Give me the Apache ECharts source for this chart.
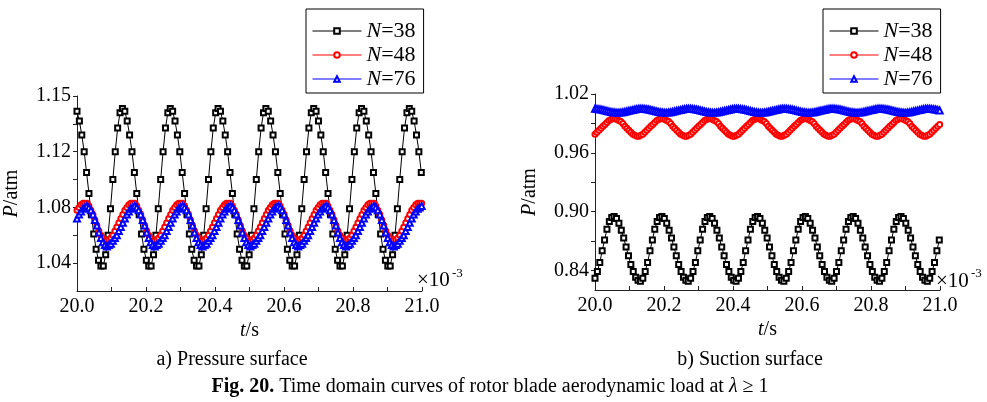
<!DOCTYPE html>
<html>
<head>
<meta charset="utf-8">
<script src="https://cdn.jsdelivr.net/npm/echarts@6/dist/echarts.min.js"></script>
<style>
	html, body { margin: 0; padding: 0; background: #fff; }
	#fig { width: 987px; height: 402px; }
</style>
</head>
<body>
<div id="fig"></div>
<script>
	// sample times: start + i * step (ms ×10^-3 s)
	var tStart = 20.0;
	var stepN38 = 0.00693;
	var stepN48 = 0.005775;
	var stepN76 = 0.005775;

	var seriesNames = ['N=38', 'N=48', 'N=76'];
	var xTicks = [20.0, 20.2, 20.4, 20.6, 20.8, 21.0];

	// a) pressure surface
	var leftYTicks = [1.04, 1.06, 1.08, 1.10, 1.12, 1.14, 1.16];
	var leftYLabelValues = [1.04, 1.08, 1.12, 1.16];
	var leftYLabels = ['1.04', '1.08', '1.12', '1.15'];

	var pressN38 = [
		1.149,1.142,1.132,1.120,1.105,1.090,1.075,1.061,1.050,1.042,1.038,1.038,1.046,1.060,1.079,1.100,1.120,1.137,1.148,1.151,
		1.149,1.142,1.132,1.120,1.105,1.090,1.075,1.061,1.050,1.042,1.038,1.038,1.046,1.060,1.079,1.100,1.120,1.137,1.148,1.151,
		1.149,1.142,1.132,1.120,1.105,1.090,1.075,1.061,1.050,1.042,1.038,1.038,1.046,1.060,1.079,1.100,1.120,1.137,1.148,1.151,
		1.149,1.142,1.132,1.120,1.105,1.090,1.075,1.061,1.050,1.042,1.038,1.038,1.046,1.060,1.079,1.100,1.120,1.137,1.148,1.151,
		1.149,1.142,1.132,1.120,1.105,1.090,1.075,1.061,1.050,1.042,1.038,1.038,1.046,1.060,1.079,1.100,1.120,1.137,1.148,1.151,
		1.149,1.142,1.132,1.120,1.105,1.090,1.075,1.061,1.050,1.042,1.038,1.038,1.046,1.060,1.079,1.100,1.120,1.137,1.148,1.151,
		1.149,1.142,1.132,1.120,1.105,1.090,1.075,1.061,1.050,1.042,1.038,1.038,1.046,1.060,1.079,1.100,1.120,1.137,1.148,1.151,
		1.149,1.142,1.132,1.120,1.105
	];
	var pressN48 = [
		1.078,1.080,1.082,1.083,1.083,1.083,1.081,1.078,1.075,1.071,1.067,1.063,1.060,1.058,1.056,1.056,1.057,1.058,1.060,1.063,1.066,1.069,1.072,1.075,
		1.078,1.080,1.082,1.083,1.083,1.083,1.081,1.078,1.075,1.071,1.067,1.063,1.060,1.058,1.056,1.056,1.057,1.058,1.060,1.063,1.066,1.069,1.072,1.075,
		1.078,1.080,1.082,1.083,1.083,1.083,1.081,1.078,1.075,1.071,1.067,1.063,1.060,1.058,1.056,1.056,1.057,1.058,1.060,1.063,1.066,1.069,1.072,1.075,
		1.078,1.080,1.082,1.083,1.083,1.083,1.081,1.078,1.075,1.071,1.067,1.063,1.060,1.058,1.056,1.056,1.057,1.058,1.060,1.063,1.066,1.069,1.072,1.075,
		1.078,1.080,1.082,1.083,1.083,1.083,1.081,1.078,1.075,1.071,1.067,1.063,1.060,1.058,1.056,1.056,1.057,1.058,1.060,1.063,1.066,1.069,1.072,1.075,
		1.078,1.080,1.082,1.083,1.083,1.083,1.081,1.078,1.075,1.071,1.067,1.063,1.060,1.058,1.056,1.056,1.057,1.058,1.060,1.063,1.066,1.069,1.072,1.075,
		1.078,1.080,1.082,1.083,1.083,1.083,1.081,1.078,1.075,1.071,1.067,1.063,1.060,1.058,1.056,1.056,1.057,1.058,1.060,1.063,1.066,1.069,1.072,1.075,
		1.078,1.080,1.082,1.083,1.083,1.083
	];
	var pressN76 = [
		1.072,1.075,1.077,1.079,1.080,1.081,1.080,1.078,1.075,1.071,1.067,1.062,1.058,1.055,1.053,1.052,1.053,1.054,1.056,1.058,1.060,1.063,1.066,1.069,
		1.072,1.075,1.077,1.079,1.080,1.081,1.080,1.078,1.075,1.071,1.067,1.062,1.058,1.055,1.053,1.052,1.053,1.054,1.056,1.058,1.060,1.063,1.066,1.069,
		1.072,1.075,1.077,1.079,1.080,1.081,1.080,1.078,1.075,1.071,1.067,1.062,1.058,1.055,1.053,1.052,1.053,1.054,1.056,1.058,1.060,1.063,1.066,1.069,
		1.072,1.075,1.077,1.079,1.080,1.081,1.080,1.078,1.075,1.071,1.067,1.062,1.058,1.055,1.053,1.052,1.053,1.054,1.056,1.058,1.060,1.063,1.066,1.069,
		1.072,1.075,1.077,1.079,1.080,1.081,1.080,1.078,1.075,1.071,1.067,1.062,1.058,1.055,1.053,1.052,1.053,1.054,1.056,1.058,1.060,1.063,1.066,1.069,
		1.072,1.075,1.077,1.079,1.080,1.081,1.080,1.078,1.075,1.071,1.067,1.062,1.058,1.055,1.053,1.052,1.053,1.054,1.056,1.058,1.060,1.063,1.066,1.069,
		1.072,1.075,1.077,1.079,1.080,1.081,1.080,1.078,1.075,1.071,1.067,1.062,1.058,1.055,1.053,1.052,1.053,1.054,1.056,1.058,1.060,1.063,1.066,1.069,
		1.072,1.075,1.077,1.079,1.080,1.081
	];

	// b) suction surface
	var rightYTicks = [0.84, 0.87, 0.90, 0.93, 0.96, 0.99, 1.02];
	var rightYLabelValues = [0.84, 0.90, 0.96, 1.02];
	var rightYLabels = ['0.84', '0.90', '0.96', '1.02'];

	var suctN38 = [
		0.832,0.839,0.848,0.860,0.871,0.882,0.890,0.894,0.895,0.893,0.888,0.881,0.873,0.864,0.855,0.846,0.839,0.833,0.830,0.829,
		0.832,0.839,0.848,0.860,0.871,0.882,0.890,0.894,0.895,0.893,0.888,0.881,0.873,0.864,0.855,0.846,0.839,0.833,0.830,0.829,
		0.832,0.839,0.848,0.860,0.871,0.882,0.890,0.894,0.895,0.893,0.888,0.881,0.873,0.864,0.855,0.846,0.839,0.833,0.830,0.829,
		0.832,0.839,0.848,0.860,0.871,0.882,0.890,0.894,0.895,0.893,0.888,0.881,0.873,0.864,0.855,0.846,0.839,0.833,0.830,0.829,
		0.832,0.839,0.848,0.860,0.871,0.882,0.890,0.894,0.895,0.893,0.888,0.881,0.873,0.864,0.855,0.846,0.839,0.833,0.830,0.829,
		0.832,0.839,0.848,0.860,0.871,0.882,0.890,0.894,0.895,0.893,0.888,0.881,0.873,0.864,0.855,0.846,0.839,0.833,0.830,0.829,
		0.832,0.839,0.848,0.860,0.871,0.882,0.890,0.894,0.895,0.893,0.888,0.881,0.873,0.864,0.855,0.846,0.839,0.833,0.830,0.829,
		0.832,0.839,0.848,0.860,0.871
	];
	var suctN48 = [
		0.979,0.981,0.983,0.985,0.987,0.989,0.991,0.993,0.994,0.995,0.995,0.994,0.993,0.992,0.990,0.987,0.985,0.983,0.981,0.979,0.978,0.977,0.977,0.978,
		0.979,0.981,0.983,0.985,0.987,0.989,0.991,0.993,0.994,0.995,0.995,0.994,0.993,0.992,0.990,0.987,0.985,0.983,0.981,0.979,0.978,0.977,0.977,0.978,
		0.979,0.981,0.983,0.985,0.987,0.989,0.991,0.993,0.994,0.995,0.995,0.994,0.993,0.992,0.990,0.987,0.985,0.983,0.981,0.979,0.978,0.977,0.977,0.978,
		0.979,0.981,0.983,0.985,0.987,0.989,0.991,0.993,0.994,0.995,0.995,0.994,0.993,0.992,0.990,0.987,0.985,0.983,0.981,0.979,0.978,0.977,0.977,0.978,
		0.979,0.981,0.983,0.985,0.987,0.989,0.991,0.993,0.994,0.995,0.995,0.994,0.993,0.992,0.990,0.987,0.985,0.983,0.981,0.979,0.978,0.977,0.977,0.978,
		0.979,0.981,0.983,0.985,0.987,0.989,0.991,0.993,0.994,0.995,0.995,0.994,0.993,0.992,0.990,0.987,0.985,0.983,0.981,0.979,0.978,0.977,0.977,0.978,
		0.979,0.981,0.983,0.985,0.987,0.989,0.991,0.993,0.994,0.995,0.995,0.994,0.993,0.992,0.990,0.987,0.985,0.983,0.981,0.979,0.978,0.977,0.977,0.978,
		0.979,0.981,0.983,0.985,0.987,0.989
	];
	var suctN76 = [
		1.0050,1.0048,1.0045,1.0042,1.0037,1.0032,1.0027,1.0022,1.0017,1.0014,1.0011,1.0010,1.0010,1.0012,1.0015,1.0018,1.0023,1.0028,1.0033,1.0038,1.0043,1.0046,1.0049,1.0050,
		1.0050,1.0048,1.0045,1.0042,1.0037,1.0032,1.0027,1.0022,1.0017,1.0014,1.0011,1.0010,1.0010,1.0012,1.0015,1.0018,1.0023,1.0028,1.0033,1.0038,1.0043,1.0046,1.0049,1.0050,
		1.0050,1.0048,1.0045,1.0042,1.0037,1.0032,1.0027,1.0022,1.0017,1.0014,1.0011,1.0010,1.0010,1.0012,1.0015,1.0018,1.0023,1.0028,1.0033,1.0038,1.0043,1.0046,1.0049,1.0050,
		1.0050,1.0048,1.0045,1.0042,1.0037,1.0032,1.0027,1.0022,1.0017,1.0014,1.0011,1.0010,1.0010,1.0012,1.0015,1.0018,1.0023,1.0028,1.0033,1.0038,1.0043,1.0046,1.0049,1.0050,
		1.0050,1.0048,1.0045,1.0042,1.0037,1.0032,1.0027,1.0022,1.0017,1.0014,1.0011,1.0010,1.0010,1.0012,1.0015,1.0018,1.0023,1.0028,1.0033,1.0038,1.0043,1.0046,1.0049,1.0050,
		1.0050,1.0048,1.0045,1.0042,1.0037,1.0032,1.0027,1.0022,1.0017,1.0014,1.0011,1.0010,1.0010,1.0012,1.0015,1.0018,1.0023,1.0028,1.0033,1.0038,1.0043,1.0046,1.0049,1.0050,
		1.0050,1.0048,1.0045,1.0042,1.0037,1.0032,1.0027,1.0022,1.0017,1.0014,1.0011,1.0010,1.0010,1.0012,1.0015,1.0018,1.0023,1.0028,1.0033,1.0038,1.0043,1.0046,1.0049,1.0050,
		1.0050,1.0048,1.0045,1.0042,1.0037,1.0032
	];

	var FONT = '"Liberation Serif", "Times New Roman", serif';

	function pairs(vals, step) {
		var out = [];
		for (var i = 0; i < vals.length; i++) {
			out.push([tStart + i * step, vals[i]]);
		}
		return out;
	}

	var styles = [
		{ symbol: 'emptyRect', size: 5, color: '#000000' },
		{ symbol: 'emptyCircle', size: 5, color: '#ff0000' },
		{ symbol: 'emptyTriangle', size: 6, color: '#0000ff' }
	];

	function mkSeries(idx, vals, step, gi) {
		var s = styles[idx];
		return {
			name: seriesNames[idx],
			type: 'line',
			xAxisIndex: gi,
			yAxisIndex: gi,
			data: pairs(vals, step),
			symbol: s.symbol,
			symbolSize: s.size,
			showAllSymbol: true,
			itemStyle: { color: s.color, borderWidth: 1 },
			lineStyle: { color: s.color, width: 1 },
			emphasis: { disabled: true }
		};
	}

	function xAxisCfg(gi) {
		return {
			type: 'value',
			gridIndex: gi,
			min: 20, max: 21, interval: 0.2,
			name: '{i|t}/s',
			nameLocation: 'middle',
			nameGap: 30,
			nameTextStyle: {
				fontFamily: FONT, fontSize: 20, color: '#000',
				rich: { i: { fontFamily: FONT, fontSize: 20, fontStyle: 'italic', color: '#000' } }
			},
			axisLine: { show: true, onZero: false, lineStyle: { color: '#222', width: 1 } },
			axisTick: { show: true, inside: true, length: 4, lineStyle: { color: '#222' } },
			minorTick: { show: true, splitNumber: 2, length: 4, lineStyle: { color: '#222' } },
			axisLabel: {
				fontFamily: FONT, fontSize: 20, color: '#000', margin: 6,
				customValues: xTicks,
				formatter: function (v) { return v.toFixed(1); }
			},
			splitLine: { show: false }
		};
	}

	function yAxisCfg(gi, mn, mx, ticks, labVals, labs) {
		return {
			type: 'value',
			gridIndex: gi,
			min: mn, max: mx,
			name: '{i|P}/atm',
			nameLocation: 'middle',
			nameRotate: 90,
			nameGap: 55,
			nameTextStyle: {
				fontFamily: FONT, fontSize: 20, color: '#000',
				rich: { i: { fontFamily: FONT, fontSize: 20, fontStyle: 'italic', color: '#000' } }
			},
			axisLine: { show: true, onZero: false, lineStyle: { color: '#222', width: 1 } },
			axisTick: { show: true, inside: false, length: 4, customValues: ticks, lineStyle: { color: '#222' } },
			axisLabel: {
				fontFamily: FONT, fontSize: 20, color: '#000', margin: 6,
				customValues: labVals,
				formatter: function (v) {
					for (var k = 0; k < labVals.length; k++) {
						if (Math.abs(v - labVals[k]) < 1e-6) return labs[k];
					}
					return '';
				}
			},
			splitLine: { show: false }
		};
	}

	function legendCfg(left) {
		return {
			left: left, top: 9,
			orient: 'vertical',
			data: seriesNames,
			itemWidth: 49,
			itemHeight: 7,
			itemGap: 0,
			padding: [10, 8, 2, 6],
			borderColor: '#000',
			borderWidth: 1,
			backgroundColor: '#fff',
			selectedMode: false,
			lineStyle: { width: 1 },
			formatter: function (name) { return '{i|N}' + name.slice(1); },
			textStyle: {
				fontFamily: FONT, fontSize: 22, lineHeight: 24, color: '#000',
				rich: { i: { fontFamily: FONT, fontSize: 22, lineHeight: 24, fontStyle: 'italic', color: '#000' } }
			}
		};
	}

	function txt(x, y, text, size, align, extra) {
		return {
			type: 'text',
			x: x, y: y,
			style: Object.assign({
				text: text,
				font: size + 'px ' + FONT,
				fill: '#000',
				textAlign: align, align: align,
				textVerticalAlign: 'middle', verticalAlign: 'middle'
			}, extra || {})
		};
	}

	var chart = echarts.init(document.getElementById('fig'), null, { renderer: 'canvas' });

	var option = {
		animation: false,
		backgroundColor: '#fff',
		grid: [
			{ left: 77, top: 96, width: 345, height: 195, containLabel: false },
			{ left: 595, top: 94, width: 345, height: 196, containLabel: false }
		],
		legend: [legendCfg(306), legendCfg(823)],
		xAxis: [xAxisCfg(0), xAxisCfg(1)],
		yAxis: [
			yAxisCfg(0, 1.02, 1.16, leftYTicks, leftYLabelValues, leftYLabels),
			yAxisCfg(1, 0.82, 1.02, rightYTicks, rightYLabelValues, rightYLabels)
		],
		series: [
			mkSeries(0, pressN38, stepN38, 0),
			mkSeries(1, pressN48, stepN48, 0),
			mkSeries(2, pressN76, stepN76, 0),
			mkSeries(0, suctN38, stepN38, 1),
			mkSeries(1, suctN48, stepN48, 1),
			mkSeries(2, suctN76, stepN76, 1)
		],
		graphic: [
			txt(417, 280, '×10', 21, 'left'),
			txt(452, 274, '-3', 13, 'left'),
			txt(936, 281, '×10', 21, 'left'),
			txt(971, 274, '-3', 13, 'left'),
			txt(232, 360, 'a) Pressure surface', 20, 'center'),
			txt(750, 360, 'b) Suction surface', 20, 'center'),
			txt(490, 387, '{b|Fig. 20.} Time domain curves of rotor blade aerodynamic load at {i|λ} ≥ 1', 20, 'center', {
				rich: {
					b: { font: 'bold 20px ' + FONT, fill: '#000' },
					i: { font: 'italic 20px ' + FONT, fill: '#000' }
				}
			})
		]
	};

	chart.setOption(option);
</script>
</body>
</html>
